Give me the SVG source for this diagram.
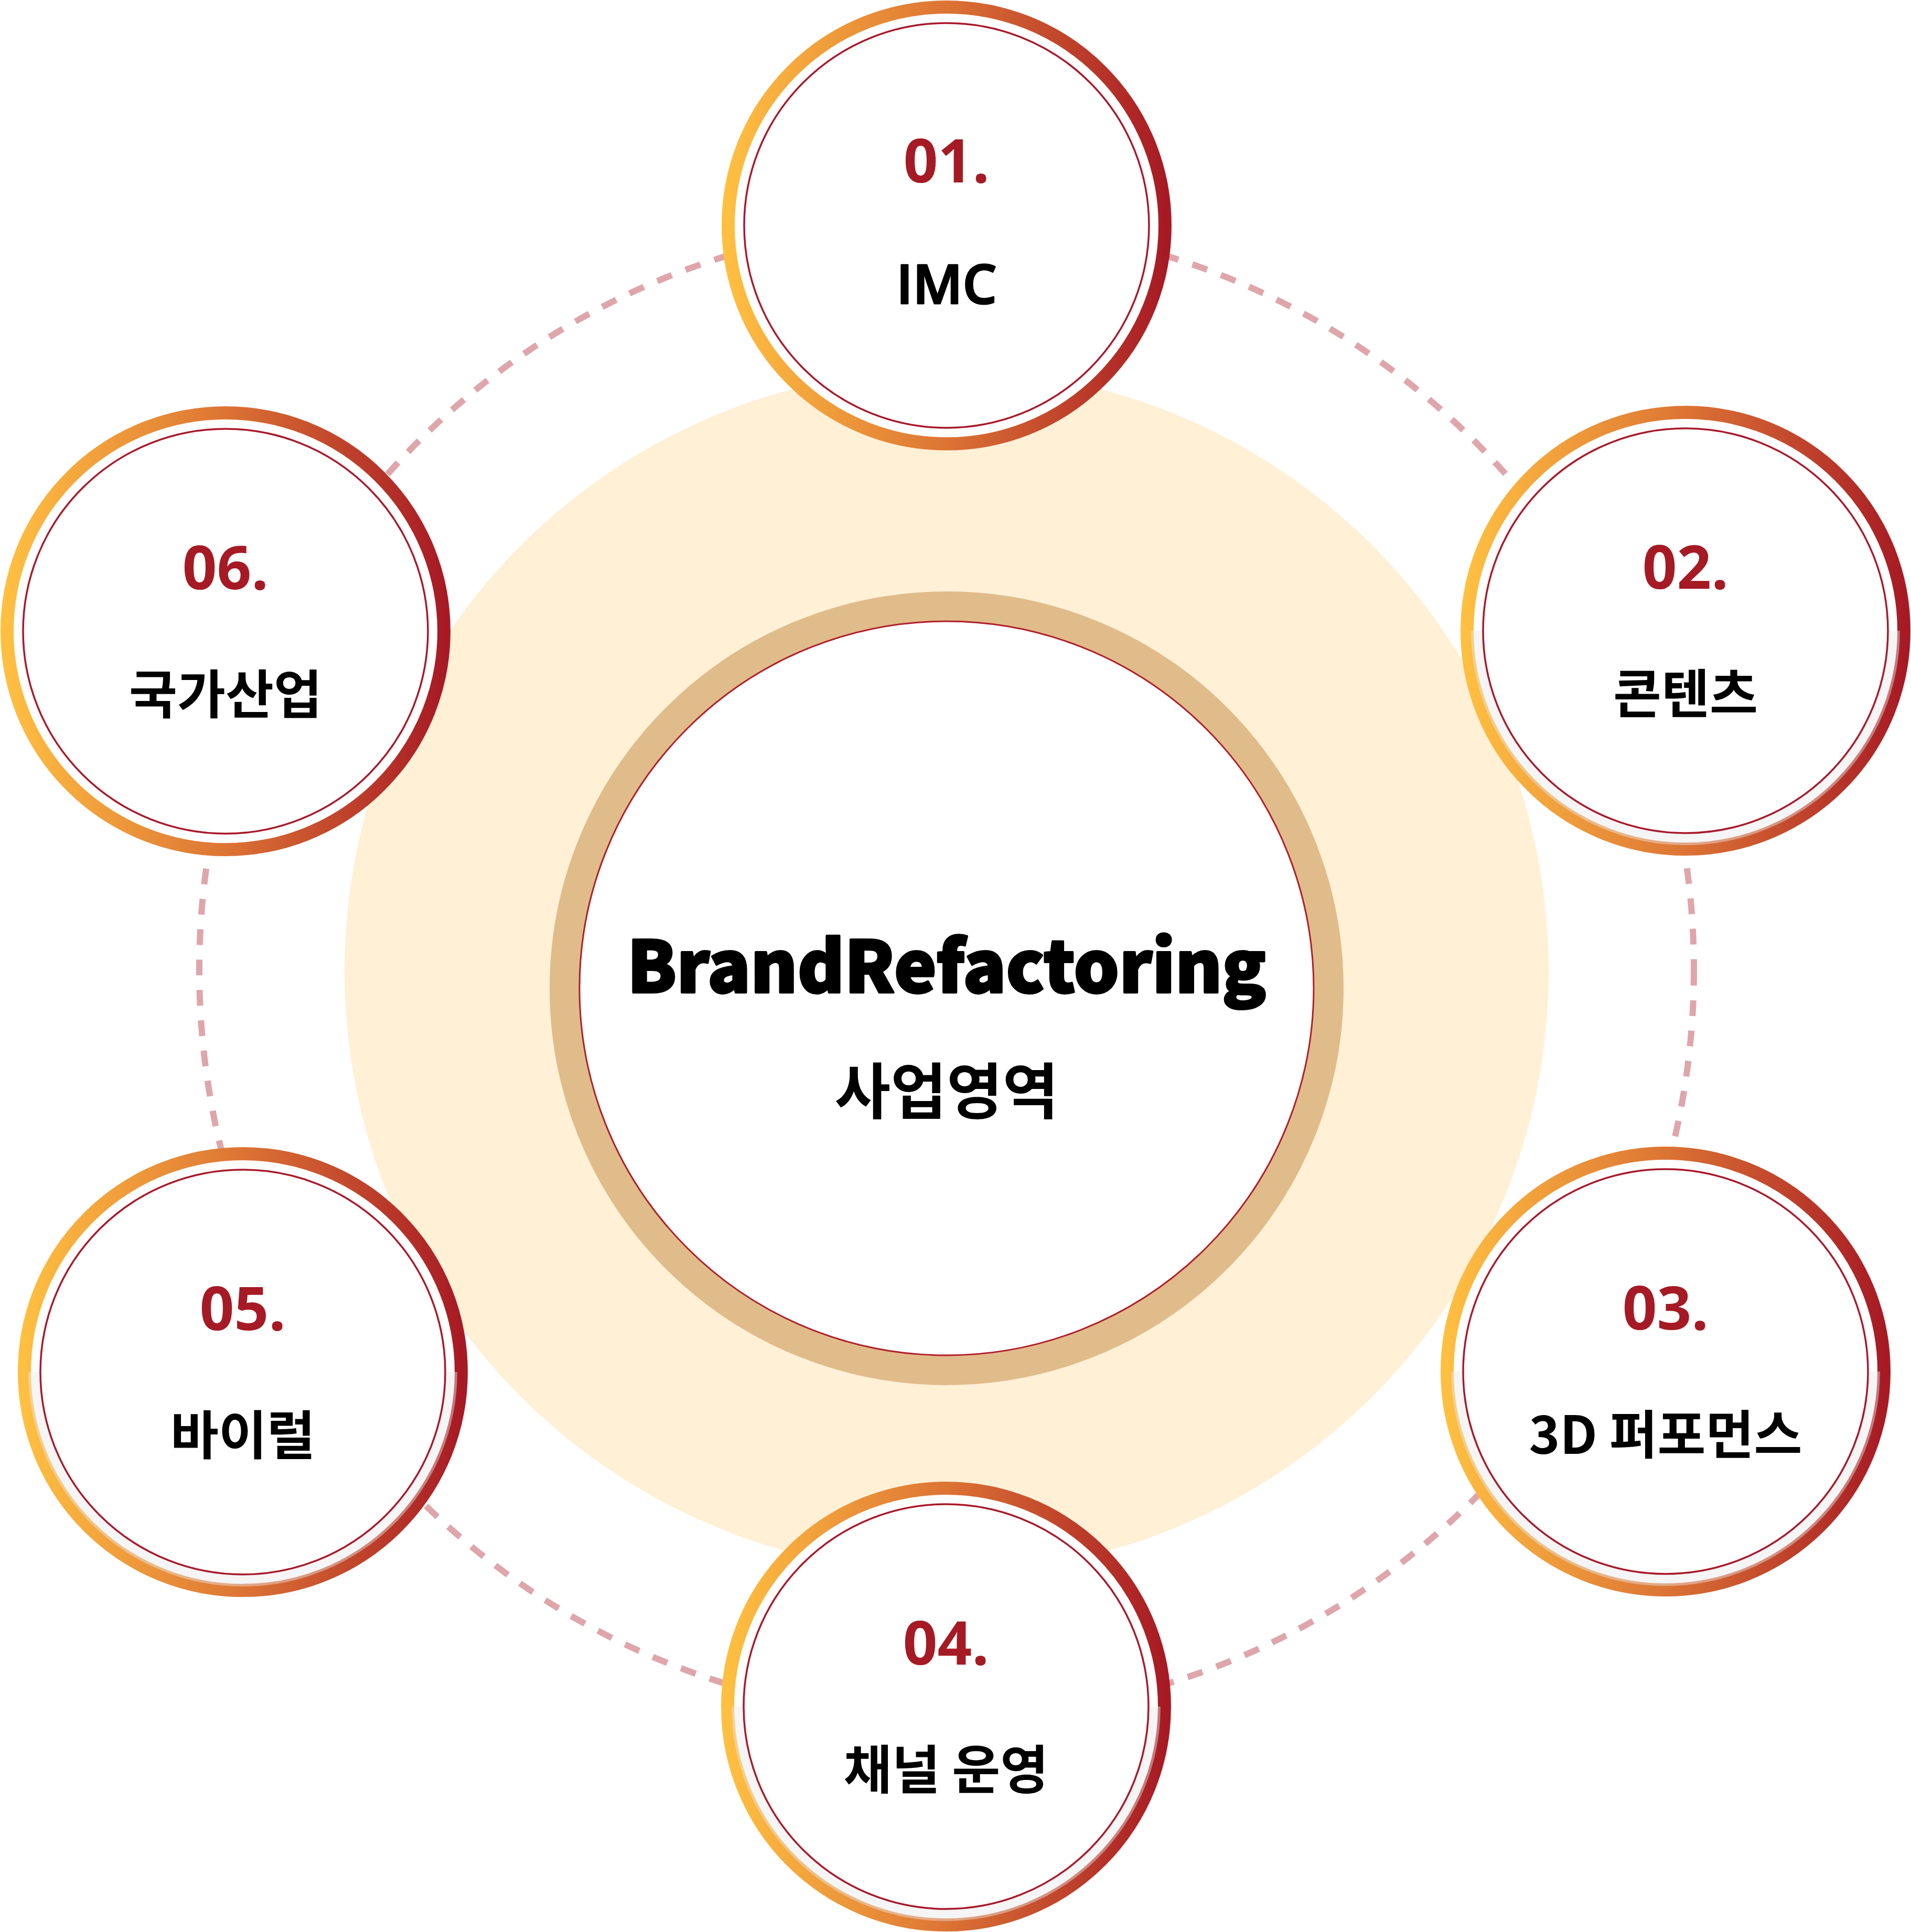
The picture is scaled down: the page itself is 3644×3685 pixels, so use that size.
<svg xmlns="http://www.w3.org/2000/svg" width="3644" height="3685" viewBox="0 0 3644 3685">
<defs>
<linearGradient id="rg" x1="0" y1="0" x2="1" y2="0">
<stop offset="0" stop-color="#FFBF41"/>
<stop offset="0.5" stop-color="#DC7434"/>
<stop offset="1" stop-color="#A71A24"/>
</linearGradient>
<style>
.ring{fill:#fff;stroke:url(#rg);stroke-width:25}
.ov{fill:#E8E8E8;fill-opacity:.45}
.inner{fill:#fff;stroke:#A8192A;stroke-width:3.5}
.num{font-family:"Open Sans","Noto Sans",sans-serif;font-weight:700;font-size:115px;fill:#A51A24;text-anchor:middle}
.lbl{font-family:"Noto Sans CJK KR",sans-serif;font-weight:700;font-size:100px;fill:#000;text-anchor:middle}
.lat{font-family:"Open Sans","Noto Sans",sans-serif;font-weight:600;font-size:103px;fill:#000;stroke:#000;stroke-width:3;stroke-linejoin:round;text-anchor:middle}
.dash{fill:none;stroke:#DEA6AB;stroke-width:12;stroke-dasharray:30 28}
</style>
</defs>
<rect width="3644" height="3685" fill="#fff"/>
<circle id="bg-halo" cx="1805" cy="1852" r="1148" fill="#FFF0D6"/>
<g id="connectors">
<circle class="dash" cx="1805" cy="1850" r="1425"/>
</g>
<g id="center">
<circle cx="1805" cy="1885" r="728.5" fill="#fff" stroke="#E0BC8A" stroke-width="57"/>
<circle cx="1805" cy="1885" r="700" fill="none" stroke="#B01E2A" stroke-width="3"/>
<text x="1805" y="1893" font-family="'Noto Sans CJK KR',sans-serif" font-weight="900" font-size="136" text-anchor="middle" fill="#000" stroke="#000" stroke-width="4" stroke-linejoin="round">BrandRefactoring</text>
<text x="1805" y="2124" font-family="'Noto Sans CJK KR',sans-serif" font-weight="700" font-size="116" text-anchor="middle" fill="#000">사업영역</text>
</g>
<g id="node01" transform="translate(1805,430)">
<circle class="ring" r="416.5"/>
<circle class="inner" r="386"/>
<text class="num" y="-82">01.</text>
<text class="lat" y="149">IMC</text>
</g>
<g id="node02" transform="translate(3214,1203)">
<circle class="ring" r="416.5"/>
<path class="ov" d="M-409,0 A409,409 0 0 0 409,0 Z"/>
<circle class="inner" r="386"/>
<text class="num" y="-80">02.</text>
<text class="lbl" y="157">콘텐츠</text>
</g>
<g id="node03" transform="translate(3176,2616)">
<circle class="ring" r="416.5"/>
<path class="ov" d="M-409,0 A409,409 0 0 0 409,0 Z"/>
<circle class="inner" r="386"/>
<text class="num" y="-80">03.</text>
<text class="lbl" y="157">3D 퍼포먼스</text>
</g>
<g id="node04" transform="translate(1804,3255)">
<circle class="ring" r="416.5"/>
<path class="ov" d="M-409,0 A409,409 0 0 0 409,0 Z"/>
<circle class="inner" r="386"/>
<text class="num" y="-80">04.</text>
<text class="lbl" y="157">채널 운영</text>
</g>
<g id="node05" transform="translate(463,2617)">
<circle class="ring" r="416.5"/>
<path class="ov" d="M-409,0 A409,409 0 0 0 409,0 Z"/>
<circle class="inner" r="386"/>
<text class="num" y="-80">05.</text>
<text class="lbl" y="157">바이럴</text>
</g>
<g id="node06" transform="translate(430,1204)">
<circle class="ring" r="416.5"/>
<circle class="inner" r="386"/>
<text class="num" y="-80">06.</text>
<text class="lbl" y="157">국가산업</text>
</g>
</svg>
